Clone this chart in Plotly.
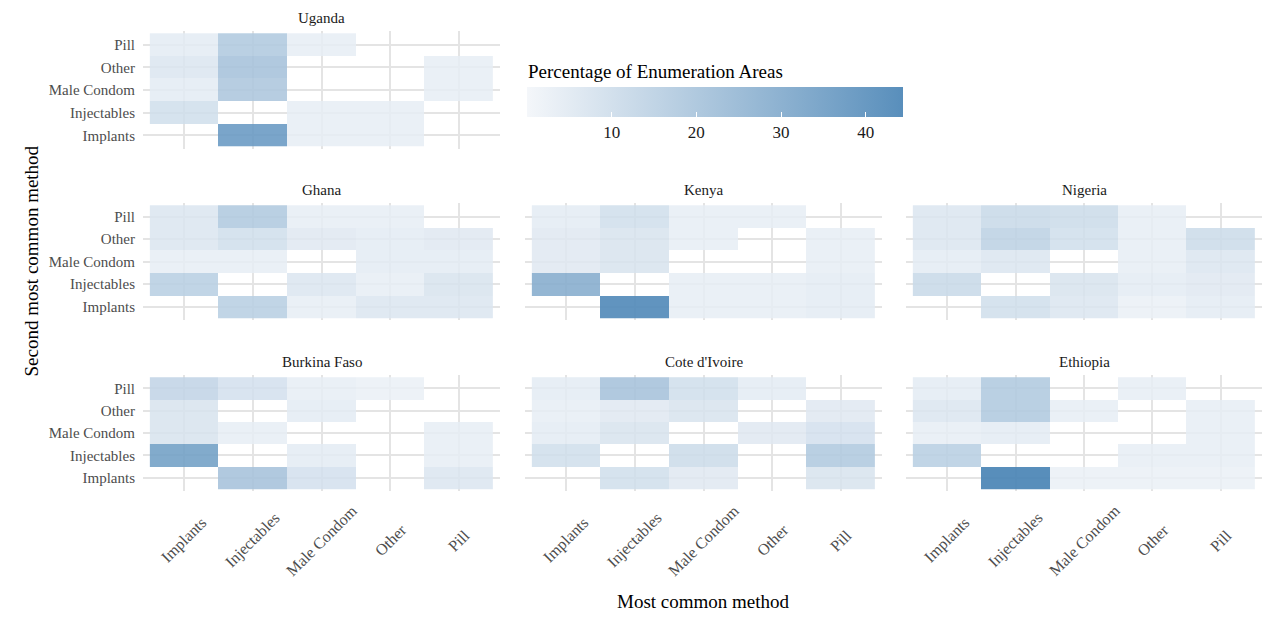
import plotly.graph_objects as go

methods = ["Implants", "Injectables", "Male Condom", "Other", "Pill"]
countries = ["Uganda", "Ghana", "Kenya", "Nigeria", "Burkina Faso", "Cote d'Ivoire", "Ethiopia"]
N = None
# rows = second most common method (Implants, Injectables, Male Condom, Other, Pill)
# cols = most common method (same order)
uganda = [[N, 35, 3, 3, N], [9, N, 3, 3, N], [4, 18, N, N, 3], [6, 20, N, N, 3], [4, 17, 3, N, N]]
ghana = [[N, 15, 3, 6, 6], [15, N, 6, 3, 7], [3, 3, N, 4, 4], [6, 9, 5, 4, 5], [6, 17, 3, 3, N]]
kenya = [[N, 42, 3, 3, 4], [28, N, 3, 3, 4], [5, 7, N, N, 3], [5, 7, 3, N, 3], [4, 9, 3, 3, N]]
nigeria = [[N, 9, 6, 2, 4], [11, N, 7, 4, 5], [4, 6, N, 3, 6], [6, 14, 9, 3, 10], [6, 11, 10, 3, N]]
burkina = [[N, 20, 8, N, 6], [33, N, 4, N, 3], [7, 3, N, N, 3], [7, N, 4, N, N], [13, 8, 3, 2, N]]
cote = [[N, 9, 5, N, 7], [9, N, 10, N, 17], [4, 7, N, 5, 8], [3, 5, 7, N, 5], [4, 20, 9, 4, N]]
ethiopia = [[N, 44.4, 2, 2, 2], [15, N, N, 3, 3], [3, 4, N, N, 3], [6, 17, 3, N, 3], [4, 17, N, 3, N]]
panel_values = [uganda, ghana, kenya, nigeria, burkina, cote, ethiopia]
legend_ticks = [10, 20, 30, 40]

W, H = 1263, 625
cols_px = [(143, 500), (525, 882), (906, 1262)]
rows_px = [(31, 149), (203, 320), (375, 491)]
placement = [(0, 0), (1, 0), (1, 1), (1, 2), (2, 0), (2, 1), (2, 2)]

FONT = "Liberation Serif"
GRID = "#E4E4E4"
fig = go.Figure()
layout = {}
annotations = []

for i, (name, z, (r, c)) in enumerate(zip(countries, panel_values, placement)):
    k = "" if i == 0 else str(i + 1)
    fig.add_trace(go.Heatmap(
        x=methods, y=methods, z=z, coloraxis="coloraxis",
        xaxis="x" + k, yaxis="y" + k, xgap=0, ygap=0,
        hovertemplate="Most: %{x}<br>Second: %{y}<br>%{z}<extra></extra>"))
    x0, x1 = cols_px[c]
    y0, y1 = rows_px[r]
    layout["xaxis" + k] = dict(
        domain=[x0 / W, x1 / W], anchor="y" + k, type="category",
        categoryorder="array", categoryarray=methods, range=[-0.6, 4.6],
        showgrid=True, gridcolor=GRID, gridwidth=1.8, zeroline=False,
        showline=False, ticks="", showticklabels=False, automargin=False,
        fixedrange=True)
    layout["yaxis" + k] = dict(
        domain=[1 - y1 / H, 1 - y0 / H], anchor="x" + k, type="category",
        categoryorder="array", categoryarray=methods, range=[-0.6, 4.6],
        showgrid=True, gridcolor=GRID, gridwidth=1.8, zeroline=False,
        showline=False, ticks="", showticklabels=(c == 0), ticklabelstandoff=7,
        tickfont=dict(family=FONT, size=15, color="#4D4D4D"), automargin=False,
        fixedrange=True)
    annotations.append(dict(
        text=name, x=(x0 + x1) / 2 / W, y=1 - (y0 - 13) / H, xref="paper", yref="paper",
        showarrow=False, font=dict(family=FONT, size=15, color="#1A1A1A"),
        xanchor="center", yanchor="middle"))
    if r == 2:
        for m in methods:
            annotations.append(dict(
                text=m, x=m, y=1 - 540 / H, xref="x" + k, yref="paper",
                showarrow=False, textangle=-45, xanchor="center", yanchor="middle",
                font=dict(family=FONT, size=16, color="#4D4D4D")))

annotations.append(dict(text="Most common method", x=703 / W, y=1 - 614 / H,
                        xref="paper", yref="paper", showarrow=False,
                        font=dict(family=FONT, size=19, color="#000000")))
annotations.append(dict(text="Second most common method", x=18 / W, y=1 - 261 / H,
                        xref="paper", yref="paper", showarrow=False, textangle=-90,
                        font=dict(family=FONT, size=19, color="#000000")))
annotations.append(dict(text="Percentage of Enumeration Areas", x=526 / W, y=1 - 71 / H,
                        xref="paper", yref="paper", showarrow=False,
                        xanchor="left", yanchor="middle",
                        font=dict(family=FONT, size=19, color="#000000")))

fig.update_layout(
    width=W, height=H, margin=dict(l=0, r=0, t=0, b=0),
    paper_bgcolor="white", plot_bgcolor="white", template="none",
    font=dict(family=FONT),
    annotations=annotations,
    coloraxis=dict(
        cmin=0, cmax=44.4,
        colorscale=[[0, "rgba(242,245,249,0.85)"], [1, "rgba(70,130,180,0.9)"]],
        colorbar=dict(
            orientation="h", x=715 / W, xanchor="center", len=376 / W, lenmode="fraction",
            thickness=30, y=1 - 87 / H, yanchor="top", ypad=0, xpad=0,
            outlinewidth=0, tickvals=legend_ticks, ticks="inside", ticklen=5,
            tickcolor="white", tickwidth=1,
            tickfont=dict(family=FONT, size=17, color="#1A1A1A"))),
    **layout)

fig.write_html("out.html")
